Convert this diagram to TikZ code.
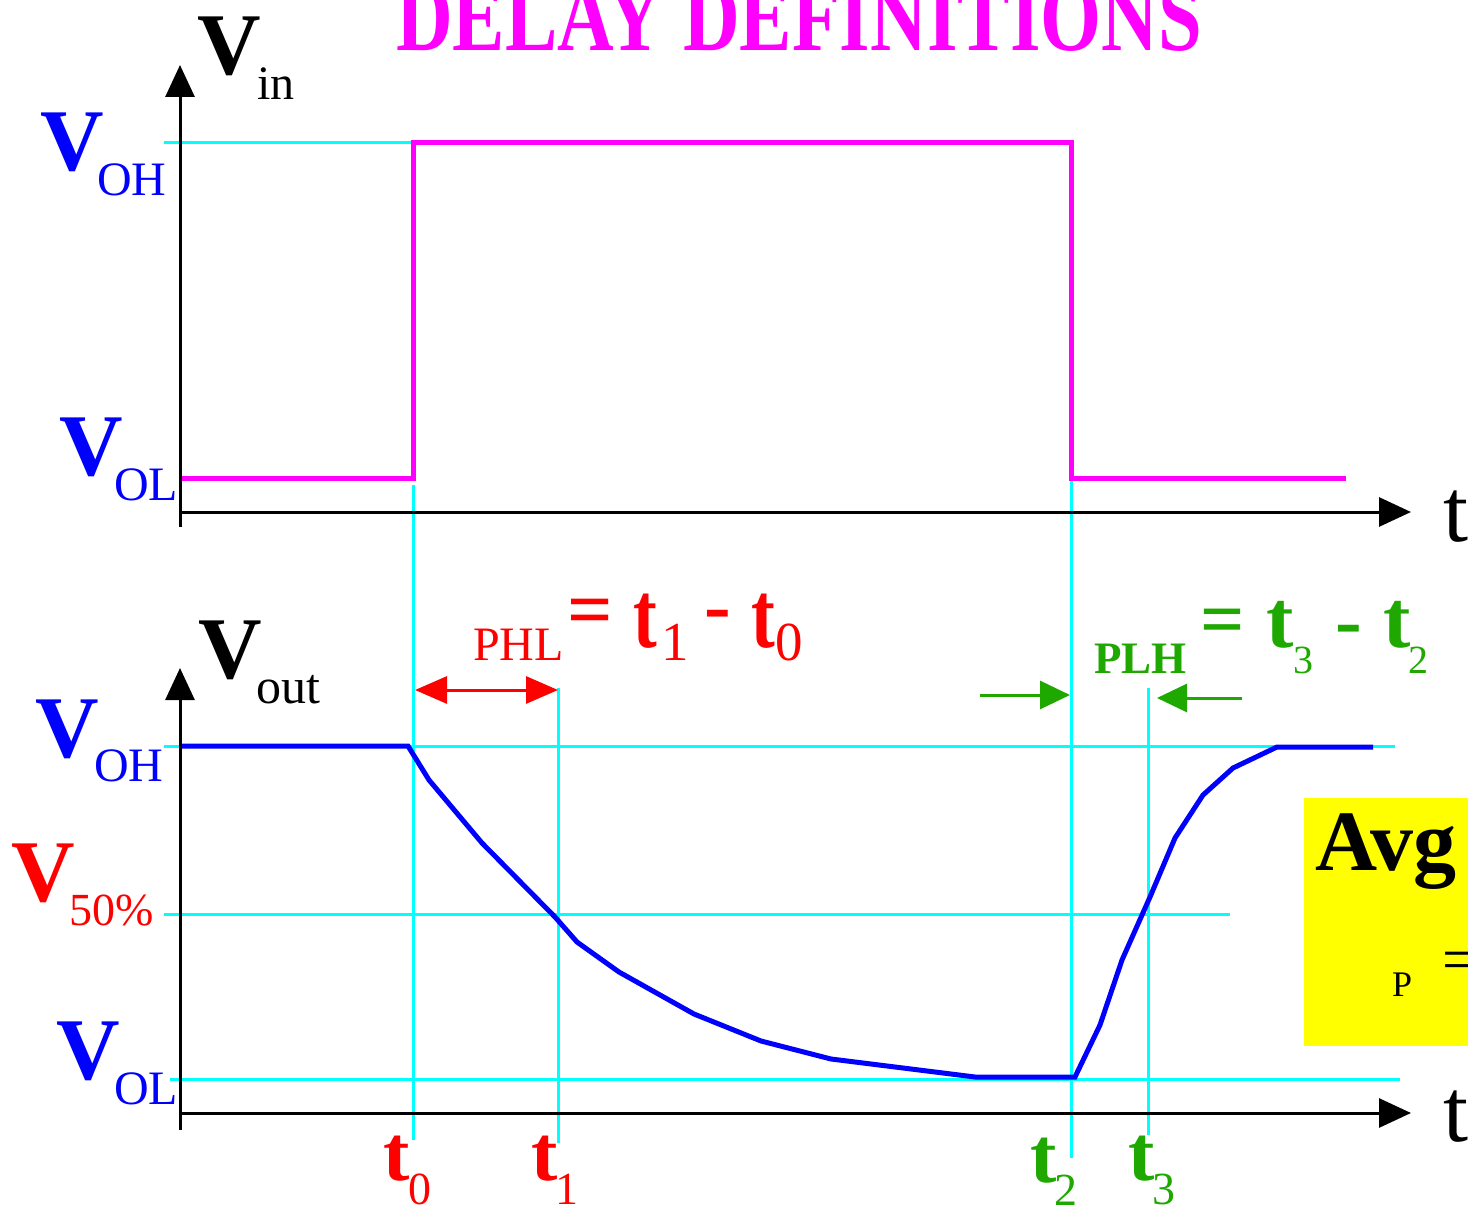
\documentclass[tikz,border=0pt]{standalone}
\usepackage{fontspec}
\setmainfont{Liberation Serif}
\usetikzlibrary{arrows.meta}
\definecolor{mag}{RGB}{255,0,255}
\definecolor{cy}{RGB}{0,255,255}
\definecolor{bl}{RGB}{0,0,255}
\definecolor{rd}{RGB}{255,0,0}
\definecolor{gr}{RGB}{30,168,0}
\definecolor{yel}{RGB}{255,255,0}
\newcommand\myfs[1]{\fontsize{#1}{#1}\selectfont}
\begin{document}
\begin{tikzpicture}[x=1pt,y=-1pt,
  lbl/.style={inner sep=0,outer sep=0,anchor=base west},
  bigv/.style={lbl,font=\myfs{88}\bfseries},
  subs/.style={lbl,font=\myfs{48}},
  guide/.style={cy,line width=3pt},
  axisline/.style={line width=3pt,-{Triangle[length=32pt,width=29pt]}},
  wave/.style={line width=5pt,line join=miter},
  fbig/.style={lbl,font=\myfs{80}\bfseries},
  ftee/.style={lbl,font=\myfs{95}\bfseries},
  fdig/.style={lbl,font=\myfs{55}},
  gtee/.style={lbl,font=\myfs{82}\bfseries},
  gdig/.style={lbl,font=\myfs{40}},
  btee/.style={lbl,font=\myfs{79}\bfseries},
  bdig/.style={lbl,font=\myfs{46}},
  redarr/.style={rd,line width=3pt,{Triangle[length=32pt,width=27pt]}-{Triangle[length=32pt,width=27pt]}},
  grarr/.style={gr,line width=3pt,-{Triangle[length=30pt,width=28pt]}}
]
\useasboundingbox (0,0) rectangle (1468,1209);
\clip (0,0) rectangle (1468,1209);
\fill[white] (0,0) rectangle (1468,1209);

% title
\node[lbl,mag,font=\myfs{100}\bfseries] (title) at (396,51) {\resizebox{806pt}{\height}{DELAY DEFINITIONS}};

% yellow box
\fill[yel] (1304,798) rectangle (1475,1046);
\node[lbl,font=\myfs{86}\bfseries] (avg) at (1315,870) {Avg};
\node[lbl,font=\myfs{36}] (psub) at (1392,996) {P};
\node[lbl,font=\myfs{62}] (peq) at (1442,980) {=};

% guide coordinates
\coordinate (ohTopL) at (164,143);  \coordinate (ohTopR) at (411,143);
\coordinate (ohL) at (164,746);     \coordinate (ohR) at (1395,746);
\coordinate (hfL) at (164,914);     \coordinate (hfR) at (1230,914);
\coordinate (olL) at (170,1079);    \coordinate (olR) at (1400,1079);
\coordinate (t0a) at (413,485);     \coordinate (t0b) at (413,1140);
\coordinate (t1a) at (558,688);     \coordinate (t1b) at (558,1143);
\coordinate (t2a) at (1071,478);    \coordinate (t2b) at (1071,1158);
\coordinate (t3a) at (1148,688);    \coordinate (t3b) at (1148,1135);

\draw[guide] (ohTopL) -- (ohTopR);
\draw[guide] (ohL) -- (ohR);
\draw[guide] (hfL) -- (hfR);
\draw[guide] (olL) -- (olR);
\draw[guide] (t0a) -- (t0b);
\draw[guide] (t1a) -- (t1b);
\draw[guide] (t2a) -- (t2b);
\draw[guide] (t3a) -- (t3b);

% input waveform
\draw[wave,mag] (180,478) -- (413,478) -- (413,143) -- (1071,143) -- (1071,478) -- (1346,478);

% output waveform
\draw[wave,bl] (180,746) -- (408,746) -- (429,780) -- (482,843) -- (555,917) -- (577,942)
  -- (619,972) -- (694,1014) -- (761,1041) -- (831,1059) -- (975,1077) -- (1075,1077)
  -- (1100,1025) -- (1122,960) -- (1150,897) -- (1175,838) -- (1203,795) -- (1233,768)
  -- (1277,747) -- (1373,747);

% axes
\coordinate (ax1o) at (180,527); \coordinate (ax1y) at (180,65);
\coordinate (ax1s) at (180,512); \coordinate (ax1x) at (1411,512);
\coordinate (ax2o) at (180,1130); \coordinate (ax2y) at (180,668);
\coordinate (ax2s) at (180,1113); \coordinate (ax2x) at (1411,1113);
\draw[axisline] (ax1o) -- (ax1y);
\draw[axisline] (ax1s) -- (ax1x);
\draw[axisline] (ax2o) -- (ax2y);
\draw[axisline] (ax2s) -- (ax2x);
\node[lbl,font=\myfs{90}] (tax1) at (1443,541) {t};
\node[lbl,font=\myfs{90}] (tax2) at (1443,1141) {t};

% top labels
\node[bigv] (vinV) at (197,75) {V};
\node[subs] (vinS) at (257,100) {in};
\node[bigv,bl] (voh1V) at (40,171) {V};
\node[subs,bl] (voh1S) at (97,196) {OH};
\node[bigv,bl] (vol1V) at (59,475) {V};
\node[subs,bl] (vol1S) at (114,500) {OL};

% bottom labels
\node[bigv] (voutV) at (198,678) {V};
\node[subs,font=\myfs{50}] (voutS) at (256,703) {out};
\node[bigv,bl] (voh2V) at (35,757) {V};
\node[subs,bl] (voh2S) at (94,781) {OH};
\node[bigv,rd] (v50V) at (11,901) {V};
\node[subs,rd,font=\myfs{46}] (v50S) at (69,925) {50\%};
\node[bigv,bl] (vol2V) at (56,1079) {V};
\node[subs,bl] (vol2S) at (114,1104) {OL};

% PHL formula
\node[subs,rd] (phl) at (473,660) {PHL};
\node[fbig,rd] (phleq) at (567,636) {=};
\node[ftee,rd] (phlt1) at (633,647) {\scalebox{0.75}[1]{t}};
\node[fdig,rd] (phld1) at (661,660) {1};
\node[fbig,rd] (phlmin) at (704,632) {-};
\node[ftee,rd] (phlt0) at (751,647) {\scalebox{0.75}[1]{t}};
\node[fdig,rd] (phld0) at (775,660) {0};
\coordinate (phlA) at (415,690); \coordinate (phlB) at (558,690);
\draw[redarr] (phlA) -- (phlB);

% PLH formula
\node[lbl,gr,font=\myfs{45}\bfseries] (plh) at (1094,673) {PLH};
\node[fbig,gr,font=\myfs{78}\bfseries] (plheq) at (1200,645) {=};
\node[gtee,gr] (plht3) at (1266,647) {t};
\node[gdig,gr] (plhd3) at (1293,673) {3};
\node[fbig,gr] (plhmin) at (1335,647) {-};
\node[gtee,gr] (plht2) at (1383,647) {t};
\node[gdig,gr] (plhd2) at (1408,673) {2};
\coordinate (g1a) at (980,695); \coordinate (g1b) at (1070,695);
\coordinate (g2a) at (1242,698); \coordinate (g2b) at (1157,698);
\draw[grarr] (g1a) -- (g1b);
\draw[grarr] (g2a) -- (g2b);

% time labels
\node[btee,rd] (lt0) at (383,1180) {t};
\node[bdig,rd] (ld0) at (408,1204) {0};
\node[btee,rd] (lt1) at (531,1180) {t};
\node[bdig,rd] (ld1) at (555,1204) {1};
\node[btee,gr] (lt2) at (1030,1182) {t};
\node[bdig,gr] (ld2) at (1054,1205) {2};
\node[btee,gr] (lt3) at (1128,1180) {t};
\node[bdig,gr] (ld3) at (1152,1204) {3};
\end{tikzpicture}
\end{document}
